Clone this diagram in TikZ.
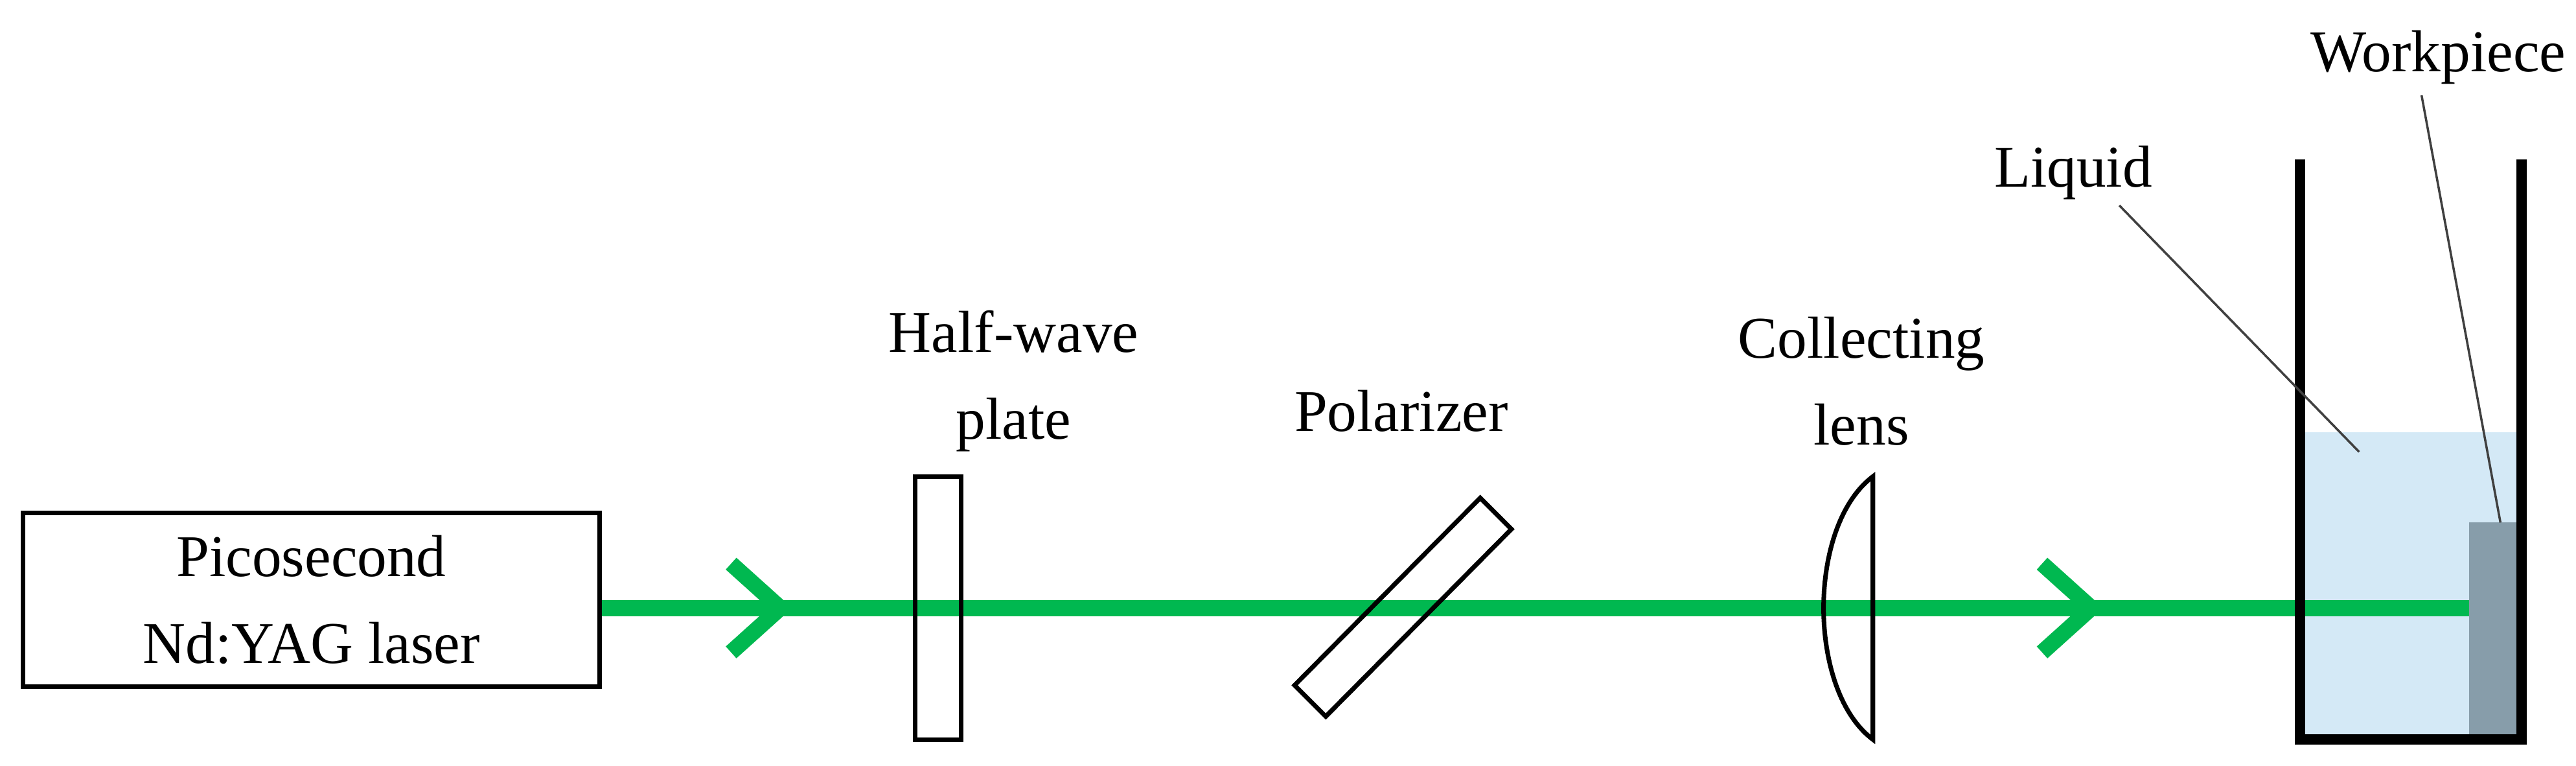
\documentclass[tikz,border=0pt]{standalone}
\usepackage{fontspec}
\setmainfont{Liberation Serif}
\definecolor{beam}{RGB}{0,184,80}
\definecolor{liq}{RGB}{212,233,246}
\definecolor{wp}{RGB}{135,157,170}
\begin{document}
\begin{tikzpicture}[x=0.02536cm,y=-0.02536cm,
  lbl/.style={font=\fontsize{26}{38}\selectfont,align=center,inner sep=0pt},
  optic/.style={draw=black,line width=2pt},
  beamline/.style={draw=beam,line width=7pt},
  lead/.style={draw=black!75,line width=1pt}]
\useasboundingbox (0,0) rectangle (1568,466);
% liquid and workpiece
\fill[liq] (1400,263) rectangle (1535,450);
\fill[wp] (1503,318) rectangle (1535,450);
% laser and beam
\node[draw,line width=2pt,minimum width=351*0.02536cm,minimum height=106*0.02536cm,lbl] (laser) at (189.5,365) {Picosecond\\Nd:YAG laser};
\coordinate (bend) at (1503,370);
\draw[beamline] (laser.east |- bend) -- (bend);
\draw[beamline,line join=miter] (445,343) -- (475,370) -- (445,397);
\draw[beamline,line join=miter] (1243,343) -- (1273,370) -- (1243,397);
% half-wave plate
\draw[optic] (557,290) rectangle (585,450);
\node[lbl] (hw) at (617,232) {Half-wave\\plate};
% polarizer
\draw[optic] (901,303) -- (920,322) -- (807,436) -- (788,417) -- cycle;
\node[lbl] (pol) at (853,250) {Polarizer};
% lens
\draw[optic] (1140,290) .. controls (1100,320) and (1100,420) .. (1140,450) -- cycle;
\node[lbl] (cl) at (1133,232) {Collecting\\lens};
% tank
\draw[line width=4.5pt] (1400,97) -- (1400,450) -- (1535,450) -- (1535,97);
% labels
\node[lbl] (liquid) at (1262,105) {Liquid};
\node[lbl,anchor=east] (work) at (1562,35) {Workpiece};
\coordinate (lq) at (1436,275);
\coordinate (wq) at (1522,318);
\draw[lead] (1290,125) -- (lq);
\draw[lead] (1474,58) -- (wq);
\end{tikzpicture}
\end{document}
